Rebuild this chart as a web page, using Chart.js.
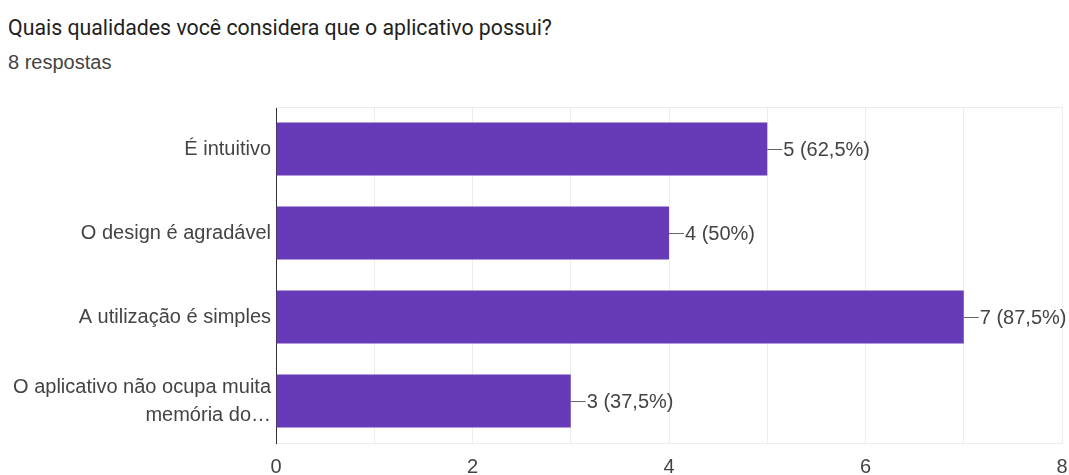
<!DOCTYPE html>
<html>
<head>
<meta charset="utf-8">
<script src="https://cdn.jsdelivr.net/npm/chart.js@4.4.1/dist/chart.umd.min.js"></script>
<style>
    body { margin: 0; background: #fff; font-family: Roboto, Arial, sans-serif; }
    #wrap { position: relative; width: 1069px; height: 475px; }
    #title { position: absolute; left: 8px; top: 15px; font-size: 21.3px; color: #222; white-space: nowrap; }
    #subtitle { position: absolute; left: 8px; top: 51px; font-family: "Liberation Sans", Arial, sans-serif; font-size: 20px; color: #444; }
    #chartBox { position: absolute; left: 0; top: 90px; width: 1069px; height: 385px; }
</style>
</head>
<body>
<div id="wrap">
    <div id="title">Quais qualidades você considera que o aplicativo possui?</div>
    <div id="subtitle">8 respostas</div>
    <div id="chartBox"><canvas id="qualChart"></canvas></div>
</div>
<script>
// Answers to the multiple-choice question
const categories = [
    'É intuitivo',
    'O design é agradável',
    'A utilização é simples',
    ['O aplicativo não ocupa muita', 'memória do…']
];
const counts = [5, 4, 7, 3];
const totalResponses = 8;
const xTicks = [0, 2, 4, 6, 8];

const BAR_COLOR = '#673ab7';
const TEXT_COLOR = '#444';
const FONT = '"Liberation Sans", Arial, sans-serif';

function formatLabel(v) {
    const pct = Math.round(v / totalResponses * 1000) / 10;
    return v + ' (' + String(pct).replace('.', ',') + '%)';
}

// Small leader line + "n (pct%)" after each bar
const valueLabels = {
    id: 'valueLabels',
    afterDatasetsDraw(chart) {
        const ctx = chart.ctx;
        const meta = chart.getDatasetMeta(0);
        ctx.save();
        ctx.font = '20px ' + FONT;
        ctx.textBaseline = 'middle';
        meta.data.forEach((bar, i) => {
            const y = Math.round(bar.y) + 0.5;
            ctx.strokeStyle = '#666';
            ctx.lineWidth = 1;
            ctx.beginPath();
            ctx.moveTo(bar.x, y);
            ctx.lineTo(bar.x + 15, y);
            ctx.stroke();
            ctx.fillStyle = TEXT_COLOR;
            ctx.fillText(formatLabel(counts[i]), bar.x + 16, y + 1);
        });
        ctx.restore();
    }
};

// Faint frame line along the top of the plot
const topBorder = {
    id: 'topBorder',
    beforeDatasetsDraw(chart) {
        const { ctx, chartArea } = chart;
        ctx.save();
        ctx.strokeStyle = '#ebebeb';
        ctx.lineWidth = 1;
        ctx.beginPath();
        ctx.moveTo(chartArea.left, chartArea.top + 0.5);
        ctx.lineTo(chartArea.right, chartArea.top + 0.5);
        ctx.stroke();
        ctx.restore();
    }
};

new Chart(document.getElementById('qualChart'), {
    type: 'bar',
    data: {
        labels: categories,
        datasets: [{
            data: counts,
            backgroundColor: BAR_COLOR,
            borderWidth: 0,
            barPercentage: 0.63,
            categoryPercentage: 1
        }]
    },
    options: {
        indexAxis: 'y',
        responsive: true,
        maintainAspectRatio: false,
        animation: false,
        layout: { padding: { top: 17, right: 7, left: 0, bottom: 0 } },
        plugins: {
            legend: { display: false },
            tooltip: { enabled: false }
        },
        scales: {
            x: {
                min: 0,
                max: 8,
                afterBuildTicks(scale) {
                    const ticks = [];
                    for (let v = 0; v <= 8; v++) ticks.push({ value: v });
                    scale.ticks = ticks;
                },
                afterFit(scale) {
                    scale.height = 32;
                    scale.paddingLeft = 0;
                    scale.paddingRight = 0;
                },
                grid: {
                    color: c => c.tick && c.tick.value === 0 ? '#333' : '#ececec',
                    drawTicks: false
                },
                border: { color: '#ececec' },
                ticks: {
                    padding: 12,
                    color: TEXT_COLOR,
                    font: { family: FONT, size: 20 },
                    callback: v => xTicks.includes(v) ? String(v) : ''
                }
            },
            y: {
                afterFit(scale) {
                    scale.width = 276;
                    scale.paddingTop = 0;
                    scale.paddingBottom = 0;
                },
                grid: { display: false, drawTicks: false },
                border: { color: '#333' },
                ticks: {
                    padding: 5,
                    color: TEXT_COLOR,
                    font: { family: FONT, size: 20, lineHeight: 1.4 }
                }
            }
        }
    },
    plugins: [topBorder, valueLabels]
});
</script>
</body>
</html>
